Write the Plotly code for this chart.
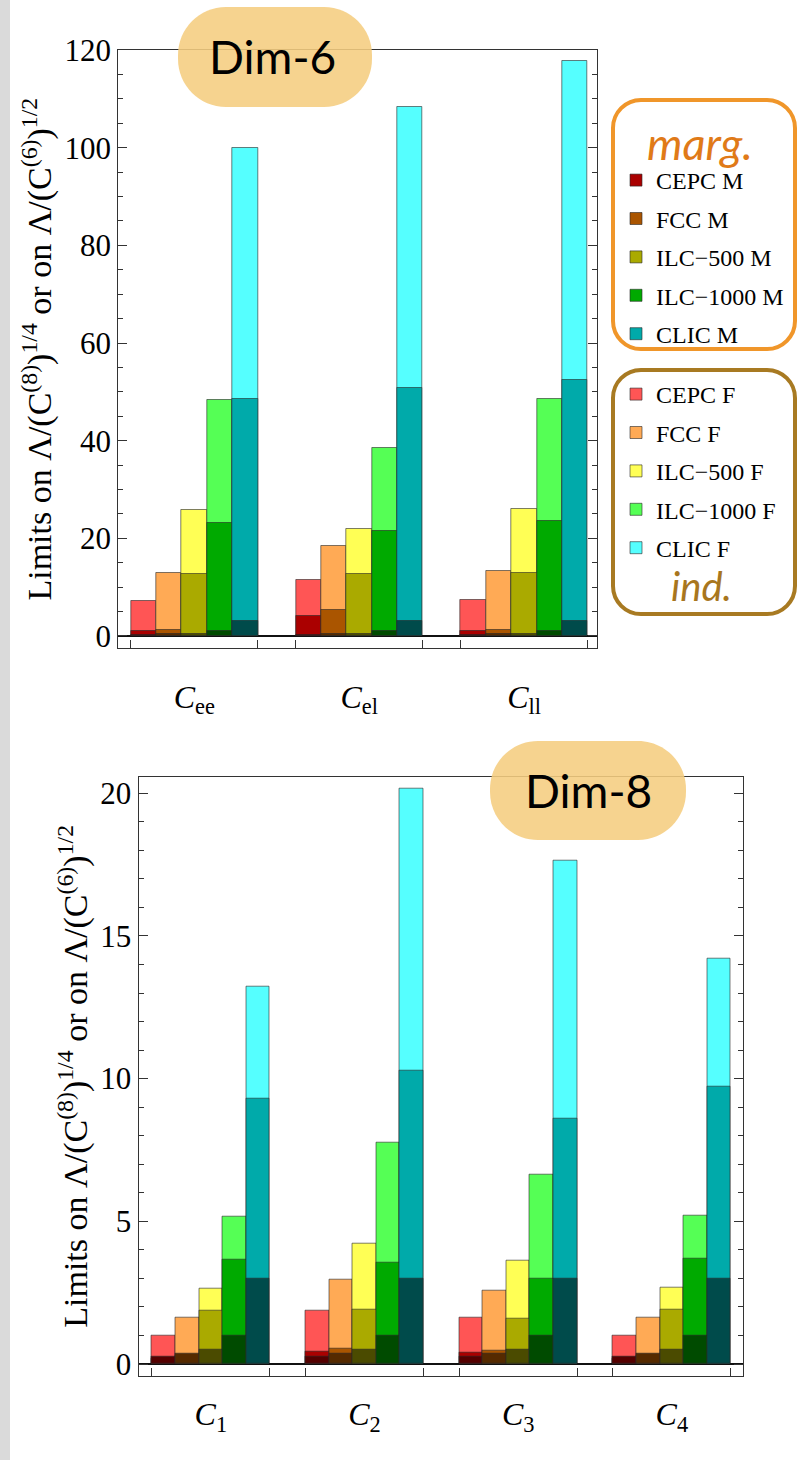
import plotly.graph_objects as go

W, H = 799, 1460

# ---------------- data ----------------
colliders = ["CEPC", "FCC", "ILC\u2212500", "ILC\u22121000", "CLIC"]
dim6_labels = ["<i>C</i><sub>ee</sub>", "<i>C</i><sub>el</sub>", "<i>C</i><sub>ll</sub>"]
dim8_labels = ["<i>C</i><sub>1</sub>", "<i>C</i><sub>2</sub>", "<i>C</i><sub>3</sub>", "<i>C</i><sub>4</sub>"]

# individual (F) limits, one row per collider, one column per operator
d6_ind = [
    [7.25, 11.5, 7.3],
    [13.0, 18.5, 13.3],
    [25.7, 22.0, 26.1],
    [48.4, 38.4, 48.6],
    [99.9, 108.3, 117.8],
]
# marginalised (M) limits
d6_marg = [
    [1.0, 4.0, 1.0],
    [1.2, 5.3, 1.2],
    [12.6, 12.7, 12.8],
    [23.1, 21.5, 23.6],
    [48.5, 50.8, 52.4],
]
d8_ind = [
    [0.98, 1.88, 1.64, 0.99],
    [1.61, 2.96, 2.56, 1.64],
    [2.63, 4.22, 3.61, 2.66],
    [5.17, 7.77, 6.65, 5.18],
    [13.23, 20.16, 17.65, 14.2],
]
d8_marg = [
    [0.2, 0.44, 0.39, 0.2],
    [0.3, 0.54, 0.45, 0.3],
    [1.88, 1.9, 1.6, 1.89],
    [3.66, 3.54, 3.0, 3.68],
    [9.3, 10.28, 8.58, 9.7],
]
# collider energy (TeV), dark bottom segment
energy_tev = [0.24, 0.365, 0.5, 1.0, 3.0]

colors_ind = ["#ff5555", "#ffaa55", "#ffff55", "#55ff55", "#55ffff"]
colors_marg = ["#aa0000", "#aa5500", "#aaaa00", "#00aa00", "#00aaaa"]
colors_en = ["#550000", "#552a00", "#4b4b00", "#004b00", "#004b4b"]

GROUP_STEP = 6.5


def px(x):
    return x / W


def py(y):
    return 1 - y / H


fig = go.Figure()


def add_panel(ind, marg, ngroups, xa, ya, legend_on):
    for layer, vals, cols, suffix in [
        ("ind", ind, colors_ind, " F"),
        ("marg", marg, colors_marg, " M"),
        ("en", None, colors_en, ""),
    ]:
        for i, name in enumerate(colliders):
            xs = [g * GROUP_STEP + i for g in range(ngroups)]
            ys = vals[i] if vals is not None else [energy_tev[i]] * ngroups
            show = legend_on and layer != "en"
            fig.add_trace(go.Bar(
                x=xs, y=ys, width=1,
                name=name + suffix,
                marker=dict(color=cols[i], line=dict(color="rgba(40,40,40,0.6)", width=1)),
                xaxis=xa, yaxis=ya,
                showlegend=show,
                legend="legend" if layer == "marg" else "legend2",
                legendgroup=name + suffix,
            ))


add_panel(d6_ind, d6_marg, 3, "x", "y", True)
add_panel(d8_ind, d8_marg, 4, "x2", "y2", False)

serif = "Liberation Serif"
axcol = "#333333"

common_y = dict(
    ticks="inside", ticklen=9, tickwidth=1, tickcolor=axcol,
    showline=True, linecolor=axcol, linewidth=1, mirror="ticks",
    showgrid=False, zeroline=True, zerolinecolor="#111111", zerolinewidth=1.5,
    tickfont=dict(family=serif, size=31, color="#000"),
    automargin=False,
    title=dict(text="Limits on \u039b/(C<sup>(8)</sup>)<sup>1/4</sup> or on \u039b/(C<sup>(6)</sup>)<sup>1/2</sup>",
               font=dict(family=serif, size=34, color="#000"), standoff=2),
)
common_x = dict(
    ticks="", showline=True, linecolor=axcol, linewidth=1, mirror=True,
    showgrid=False, zeroline=False, automargin=False,
    tickfont=dict(family=serif, size=32, color="#000"),
)

fig.update_layout(
    width=W, height=H, margin=dict(l=0, r=0, t=0, b=0),
    paper_bgcolor="white", plot_bgcolor="white",
    barmode="overlay", bargap=0,
    xaxis=dict(domain=[px(118.3), px(596.7)], range=[-1.0, 17.86], anchor="y",
               tickvals=[2, 2 + GROUP_STEP, 2 + 2 * GROUP_STEP], ticktext=dim6_labels,
               ticklabelstandoff=20,
               minor=dict(tickvals=[-0.5, 4.5, 6.0, 11.0, 12.5, 17.5], ticks="inside",
                          ticklen=8, tickcolor=axcol, showgrid=False),
               **common_x),
    yaxis=dict(domain=[py(648.3), py(50)], range=[-2.52, 120.0], anchor="x",
               tickvals=[0, 20, 40, 60, 80, 100, 120],
               minor=dict(dtick=5, tick0=0, ticks="inside", ticklen=5, tickcolor=axcol),
               **common_y),
    xaxis2=dict(domain=[px(138.5), px(743)], range=[-1.06, 24.51], anchor="y2",
                tickvals=[2 + g * GROUP_STEP for g in range(4)], ticktext=dim8_labels,
                ticklabelstandoff=10,
                minor=dict(tickvals=[-0.5, 4.5, 6.0, 11.0, 12.5, 17.5, 19.0, 24.0], ticks="inside",
                           ticklen=8, tickcolor=axcol, showgrid=False),
                **common_x),
    yaxis2=dict(domain=[py(1376), py(776.7)], range=[-0.42, 20.58], anchor="x2",
                tickvals=[0, 5, 10, 15, 20],
                minor=dict(dtick=1, tick0=0, ticks="inside", ticklen=5, tickcolor=axcol),
                **common_y),
    legend=dict(x=px(616), y=py(158), xanchor="left", yanchor="top",
                font=dict(family=serif, size=24, color="#000"),
                bgcolor="rgba(0,0,0,0)", tracegroupgap=4.2, traceorder="grouped"),
    legend2=dict(x=px(616), y=py(372), xanchor="left", yanchor="top",
                 font=dict(family=serif, size=24, color="#000"),
                 bgcolor="rgba(0,0,0,0)", tracegroupgap=4.2, traceorder="grouped"),
)


def rrect(x0, y0, x1, y1, r):
    k = 0.5523 * r

    def P(x, y):
        return f"{px(x):.5f},{py(y):.5f}"
    return (f"M{P(x0 + r, y0)} L{P(x1 - r, y0)} C{P(x1 - r + k, y0)} {P(x1, y0 + r - k)} {P(x1, y0 + r)} "
            f"L{P(x1, y1 - r)} C{P(x1, y1 - r + k)} {P(x1 - r + k, y1)} {P(x1 - r, y1)} "
            f"L{P(x0 + r, y1)} C{P(x0 + r - k, y1)} {P(x0, y1 - r + k)} {P(x0, y1 - r)} "
            f"L{P(x0, y0 + r)} C{P(x0, y0 + r - k)} {P(x0 + r - k, y0)} {P(x0 + r, y0)} Z")


shapes = [
    # left page edge shade
    dict(type="rect", xref="paper", yref="paper", x0=0, x1=px(10), y0=0, y1=1,
         fillcolor="#dadada", line=dict(width=0), layer="below"),
    # Dim labels
    dict(type="path", xref="paper", yref="paper", path=rrect(178, 7, 372, 107, 48),
         fillcolor="rgb(245,205,128)", opacity=0.88, line=dict(width=0), layer="above"),
    dict(type="path", xref="paper", yref="paper", path=rrect(490, 741, 686, 840, 48),
         fillcolor="rgb(245,205,128)", opacity=0.88, line=dict(width=0), layer="above"),
    # legend boxes
    dict(type="path", xref="paper", yref="paper", path=rrect(613, 100, 795, 349, 28),
         line=dict(color="#f0962a", width=4), layer="above"),
    dict(type="path", xref="paper", yref="paper", path=rrect(613, 370, 795, 614, 28),
         line=dict(color="#a87a22", width=4), layer="above"),
]
fig.update_layout(shapes=shapes)

gill = "Lato"
annotations = [
    dict(x=px(272), y=py(57), xref="paper", yref="paper", text="Dim-6", showarrow=False,
         font=dict(family=gill, size=46, color="#000"), xanchor="center", yanchor="middle"),
    dict(x=px(588), y=py(790), xref="paper", yref="paper", text="Dim-8", showarrow=False,
         font=dict(family=gill, size=46, color="#000"), xanchor="center", yanchor="middle"),
    dict(x=px(700), y=py(143), xref="paper", yref="paper", text="<i>marg.</i>", showarrow=False,
         font=dict(family=gill, size=45, color="#e07a18"), xanchor="center", yanchor="middle"),
    dict(x=px(701), y=py(586), xref="paper", yref="paper", text="<i>ind.</i>", showarrow=False,
         font=dict(family=gill, size=40, color="#a8761e"), xanchor="center", yanchor="middle"),
]
fig.update_layout(annotations=annotations)

fig.write_html("out.html", post_script="document.body.style.margin='0';",
               config={"displayModeBar": False})
